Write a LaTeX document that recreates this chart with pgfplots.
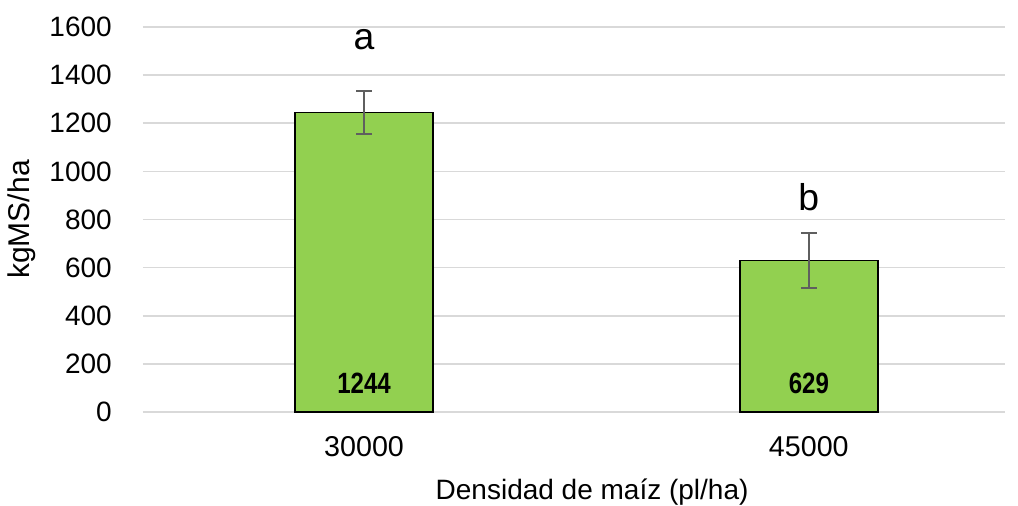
\documentclass[border=0pt]{standalone}
\usepackage{pgfplots}
\pgfplotsset{compat=1.18}
\usepackage{fontspec}
\setmainfont{Liberation Sans}
\definecolor{barfill}{HTML}{92D050}
\definecolor{gridgray}{HTML}{D9D9D9}
\definecolor{errgray}{HTML}{5F5F5F}

\begin{document}
\begin{tikzpicture}
% fixed page box: 1018 x 506 px at 0.75pt per px
\path[use as bounding box] (-107.25pt,-70.5pt) rectangle (656.25pt,309pt);
\begin{axis}[
  at={(0,0)}, anchor=south west,
  scale only axis,
  width=646.5pt, height=288.75pt,
  xmin=-0.497, xmax=1.441,
  ymin=0, ymax=1600,
  ytick={0,200,...,1600},
  xtick={0,1},
  xticklabels={30000,45000},
  axis line style={draw=none},
  major tick length=0pt,
  ymajorgrids,
  grid style={draw=gridgray, line width=1.3pt},
  tick label style={font=\fontsize{21}{24}\selectfont, inner sep=0pt},
  xticklabel style={anchor=center, yshift=-26.25pt, font=\fontsize{21.5}{24}\selectfont},
  yticklabel style={anchor=east, xshift=-23.25pt},
  /pgf/number format/assume math mode=true,
  /pgf/number format/1000 sep={},
  xlabel={Densidad de maíz (pl/ha)},
  ylabel={kgMS/ha},
  xlabel style={font=\fontsize{21}{24}\selectfont, at={(axis description cs:0.521,-0.2078)}, anchor=center},
  ylabel style={font=\fontsize{22.5}{24}\selectfont, at={(axis description cs:-0.1404,0.5)}, anchor=center},
  clip=false,
]
\addplot[ybar, bar width=103.5pt, fill=barfill, draw=black, line width=1pt,
  error bars/.cd, y dir=both, y explicit,
  error bar style={draw=errgray, line width=1.5pt},
  error mark options={rotate=90, mark size=6pt, line width=1.5pt, draw=errgray}]
  coordinates {(0,1244) +- (0,90) (1,629) +- (0,115)};
\node[font=\fontsize{28}{30}\selectfont] at (axis cs:0,1546) {a};
\node[font=\fontsize{28}{30}\selectfont] at (axis cs:1,893) {b};
\node at (axis cs:0,120) {\scalebox{0.82}[1]{\fontsize{22}{24}\selectfont\bfseries 1244}};
\node at (axis cs:1,120) {\scalebox{0.82}[1]{\fontsize{22}{24}\selectfont\bfseries 629}};
\end{axis}
\end{tikzpicture}
\end{document}
